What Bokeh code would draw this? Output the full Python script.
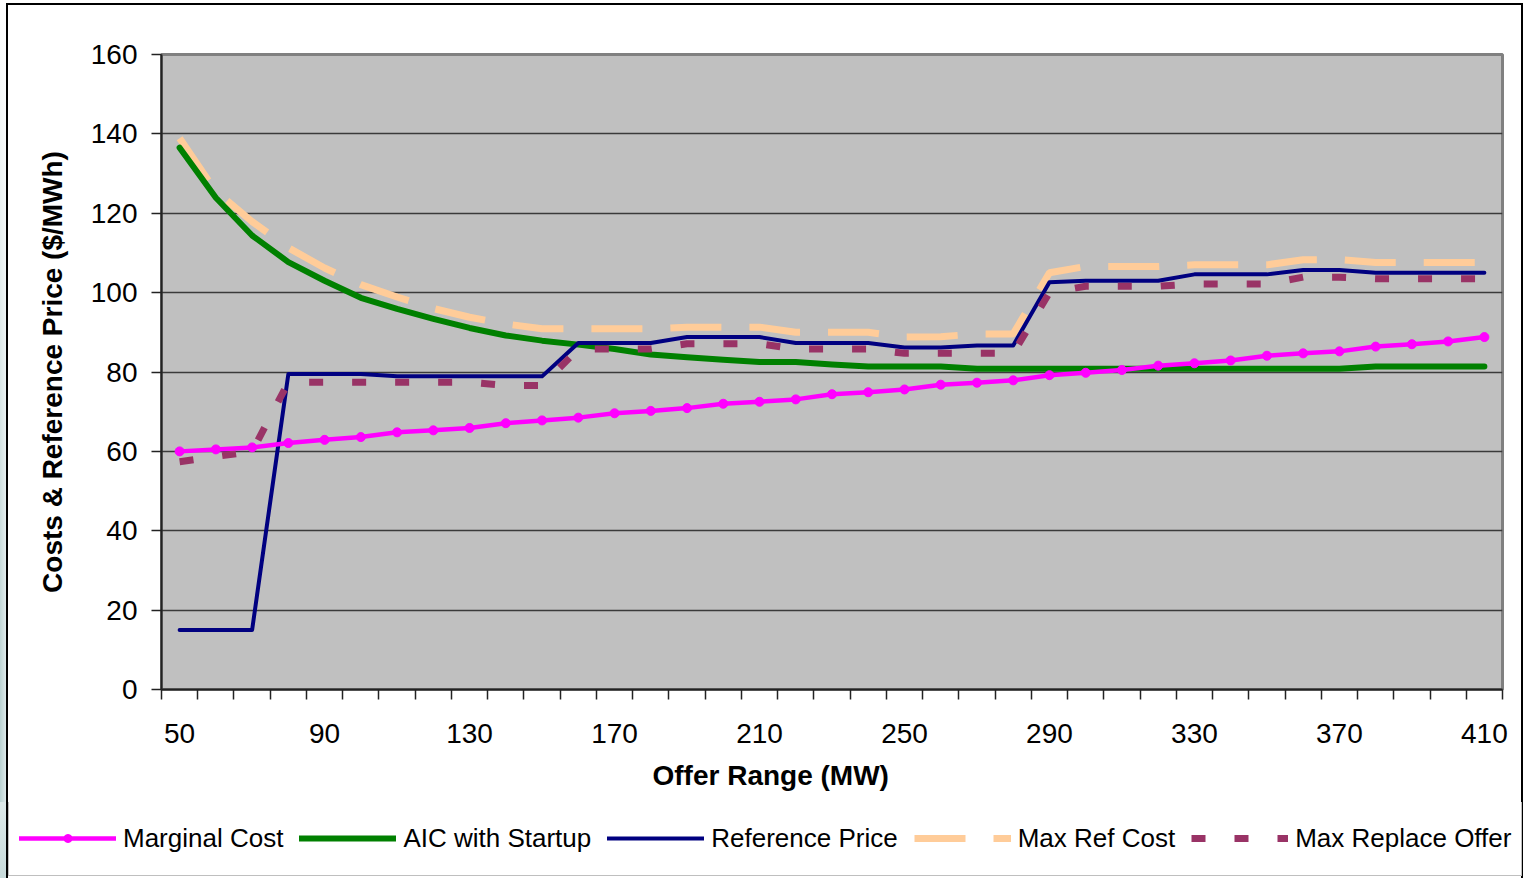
from bokeh.plotting import figure
from bokeh.models import FixedTicker, Legend, LegendItem, Title, Range1d
from bokeh.embed import file_html
from bokeh.resources import INLINE

# Offer range categories (MW)
offer_mw = [50, 60, 70, 80, 90, 100, 110, 120, 130, 140, 150, 160, 170, 180, 190,
            200, 210, 220, 230, 240, 250, 260, 270, 280, 290, 300, 310, 320, 330,
            340, 350, 360, 370, 380, 390, 400, 410]

# $/MWh series
marginal_cost = [60.0, 60.5, 61.0, 62.1, 62.9, 63.6, 64.8, 65.3, 65.9, 67.1, 67.8,
                 68.5, 69.6, 70.2, 70.9, 72.0, 72.5, 73.1, 74.4, 74.9, 75.6, 76.8,
                 77.3, 77.9, 79.2, 79.8, 80.5, 81.6, 82.2, 82.9, 84.1, 84.7, 85.2,
                 86.4, 87.0, 87.7, 88.8]
aic_with_startup = [136.5, 123.9, 114.4, 107.7, 103.0, 98.7, 95.9, 93.4, 91.1, 89.2,
                    87.9, 86.9, 85.8, 84.4, 83.7, 83.1, 82.5, 82.5, 81.9, 81.4, 81.4,
                    81.4, 80.8, 80.8, 80.8, 80.8, 80.8, 80.8, 80.8, 80.8, 80.8, 80.8,
                    80.8, 81.4, 81.4, 81.4, 81.4]
reference_price = [15.0, 15.0, 15.0, 79.5, 79.5, 79.5, 78.9, 78.9, 78.9, 78.9, 78.9,
                   87.3, 87.3, 87.3, 88.8, 88.8, 88.8, 87.3, 87.3, 87.3, 86.2, 86.2,
                   86.7, 86.7, 102.6, 103.0, 103.0, 103.0, 104.6, 104.6, 104.6, 105.7,
                   105.7, 105.0, 105.0, 105.0, 105.0]
max_ref_cost = [138.9, 125.5, 117.9, 111.3, 106.2, 102.0, 98.9, 96.0, 93.8, 92.1, 90.9,
                90.9, 90.9, 90.9, 91.3, 91.3, 91.3, 90.0, 90.0, 90.0, 88.8, 88.9, 89.6,
                89.6, 105.0, 106.6, 106.6, 106.6, 107.0, 107.0, 107.0, 108.3, 108.3,
                107.6, 107.6, 107.6, 107.6]
max_replace_offer = [57.4, 58.7, 60.0, 77.4, 77.4, 77.4, 77.4, 77.4, 77.4, 76.6, 76.6,
                     85.8, 85.8, 85.8, 87.1, 87.1, 87.1, 85.8, 85.8, 85.8, 84.7, 84.7,
                     84.7, 84.7, 100.0, 101.6, 101.6, 101.6, 102.2, 102.2, 102.2, 103.9,
                     103.9, 103.5, 103.5, 103.5, 103.5]

series_names = ["Marginal Cost", "AIC with Startup", "Reference Price",
                "Max Ref Cost", "Max Replace Offer"]

x_tick_labels = [50, 90, 130, 170, 210, 250, 290, 330, 370, 410]
y_ticks = [0, 20, 40, 60, 80, 100, 120, 140, 160]

FONT = "Liberation Sans"
PAGE_W = 1526

# line styles shared by the chart and its legend strip
STYLES = {
    "Marginal Cost": dict(line_color="#FF00FF", line_width=4.5, line_join="round",
                          line_cap="round"),
    "AIC with Startup": dict(line_color="#008000", line_width=6, line_join="round",
                             line_cap="round"),
    "Reference Price": dict(line_color="#000080", line_width=4, line_join="round",
                            line_cap="round"),
    "Max Ref Cost": dict(line_color="#FFCC99", line_width=7, line_dash="51 28"),
    "Max Replace Offer": dict(line_color="#993366", line_width=7, line_dash="14 29"),
}
MARKER = dict(marker="circle", size=9, fill_color="#FF00FF", line_color="#FF00FF")

# chart frame drawn behind transparent canvases: black border, slide edge on the left
BLACK = "linear-gradient(#000000, #000000)"
EDGE = ("linear-gradient(to bottom, rgba(255,255,255,1) 0px, "
        "rgba(255,255,255,0) 700px) 0 0 / 6px 100% no-repeat, "
        "linear-gradient(to right, #b9d1d1, #dde9e9) 0 0 / 6px 100% no-repeat")
TOP_BG = (f"{BLACK} 6px 3px / 2px 100% no-repeat, "
          f"{BLACK} 6px 3px / 1517px 2px no-repeat, "
          f"{BLACK} 1521px 3px / 2px 100% no-repeat, "
          f"{EDGE}, #ffffff")
BOTTOM_BG = (f"{BLACK} 6px 0 / 2px 100% no-repeat, "
             f"{BLACK} 1521px 0 / 2px 100% no-repeat, "
             "linear-gradient(to bottom, #dde9e9, #c7dada) 0 0 / 6px 100% no-repeat, "
             "#ffffff")

p = figure(width=PAGE_W, height=802,
           x_range=Range1d(offer_mw[0] - 5, offer_mw[-1] + 5),
           y_range=Range1d(0, 160),
           output_backend="svg", toolbar_location=None,
           min_border_left=161, min_border_right=24, min_border_top=54,
           min_border_bottom=113)
p.styles = {"background": TOP_BG}

p.background_fill_color = "#C0C0C0"
p.border_fill_color = None
p.outline_line_color = "#808080"
p.outline_line_width = 3

# grid
p.xgrid.visible = False
p.ygrid.ticker = FixedTicker(ticks=y_ticks)
p.ygrid.grid_line_color = "#3a3a3a"
p.ygrid.grid_line_width = 1.5

# y axis
yax = p.yaxis[0]
yax.ticker = FixedTicker(ticks=y_ticks)
yax.major_tick_out = 10
yax.major_tick_in = 0
yax.minor_tick_out = 0
yax.major_tick_line_color = "#222222"
yax.major_tick_line_width = 1.5
yax.axis_line_color = "#222222"
yax.axis_line_width = 2
yax.major_label_text_font = FONT
yax.major_label_text_font_size = "28px"
yax.major_label_text_color = "black"
yax.major_label_standoff = 14
yax.axis_label = "Costs & Reference Price ($/MWh)"
yax.axis_label_text_font = FONT
yax.axis_label_text_font_size = "28px"
yax.axis_label_text_font_style = "bold"
yax.axis_label_text_color = "black"
yax.axis_label_standoff = 20

# x axis: tick marks between categories, labels on every fourth category
boundaries = [v - 5 for v in offer_mw] + [offer_mw[-1] + 5]
xax = p.xaxis[0]
xax.ticker = FixedTicker(ticks=x_tick_labels, minor_ticks=boundaries)
xax.major_tick_out = 0
xax.major_tick_in = 0
xax.minor_tick_out = 10
xax.minor_tick_in = 0
xax.minor_tick_line_color = "#222222"
xax.minor_tick_line_width = 1.5
xax.axis_line_color = "#222222"
xax.axis_line_width = 2
xax.major_label_text_font = FONT
xax.major_label_text_font_size = "28px"
xax.major_label_text_color = "black"
xax.major_label_standoff = 24

p.add_layout(Title(text="Offer Range (MW)", align="left", offset=491,
                   text_font=FONT, text_font_size="28px", text_font_style="bold",
                   text_color="black", standoff=24), "below")

# series (drawing order keeps the marginal-cost markers on top)
draw_order = ["Max Ref Cost", "AIC with Startup", "Reference Price",
              "Max Replace Offer", "Marginal Cost"]
values = {
    "Marginal Cost": marginal_cost,
    "AIC with Startup": aic_with_startup,
    "Reference Price": reference_price,
    "Max Ref Cost": max_ref_cost,
    "Max Replace Offer": max_replace_offer,
}
for name in draw_order:
    p.line(offer_mw, values[name], **STYLES[name])
p.scatter(offer_mw, marginal_cost, **MARKER)

# legend strip below the chart
nan = float("nan")
leg = figure(width=PAGE_W, height=76, x_range=Range1d(0, 1), y_range=Range1d(0, 1),
             output_backend="svg", toolbar_location=None,
             x_axis_type=None, y_axis_type=None,
             min_border_left=0, min_border_right=0, min_border_top=0,
             min_border_bottom=0)
leg.styles = {"background": BOTTOM_BG}
leg.xgrid.visible = False
leg.ygrid.visible = False
leg.background_fill_color = None
leg.border_fill_color = None
leg.outline_line_color = None

items = []
for name in series_names:
    rs = [leg.line([nan], [nan], **STYLES[name])]
    if name == "Marginal Cost":
        rs.append(leg.scatter([nan], [nan], **MARKER))
    items.append(LegendItem(label=name, renderers=rs))

legend = Legend(items=items, orientation="horizontal", location=(8, 2),
                glyph_width=97, glyph_height=20, label_height=54, label_standoff=7,
                spacing=16, padding=10, margin=0,
                border_line_color="#808080", border_line_width=1.5,
                background_fill_color="white", background_fill_alpha=1,
                label_text_font=FONT, label_text_font_size="26px",
                label_text_color="black")
leg.add_layout(legend, "center")

open("out.html", "w").write(file_html([p, leg], INLINE))
